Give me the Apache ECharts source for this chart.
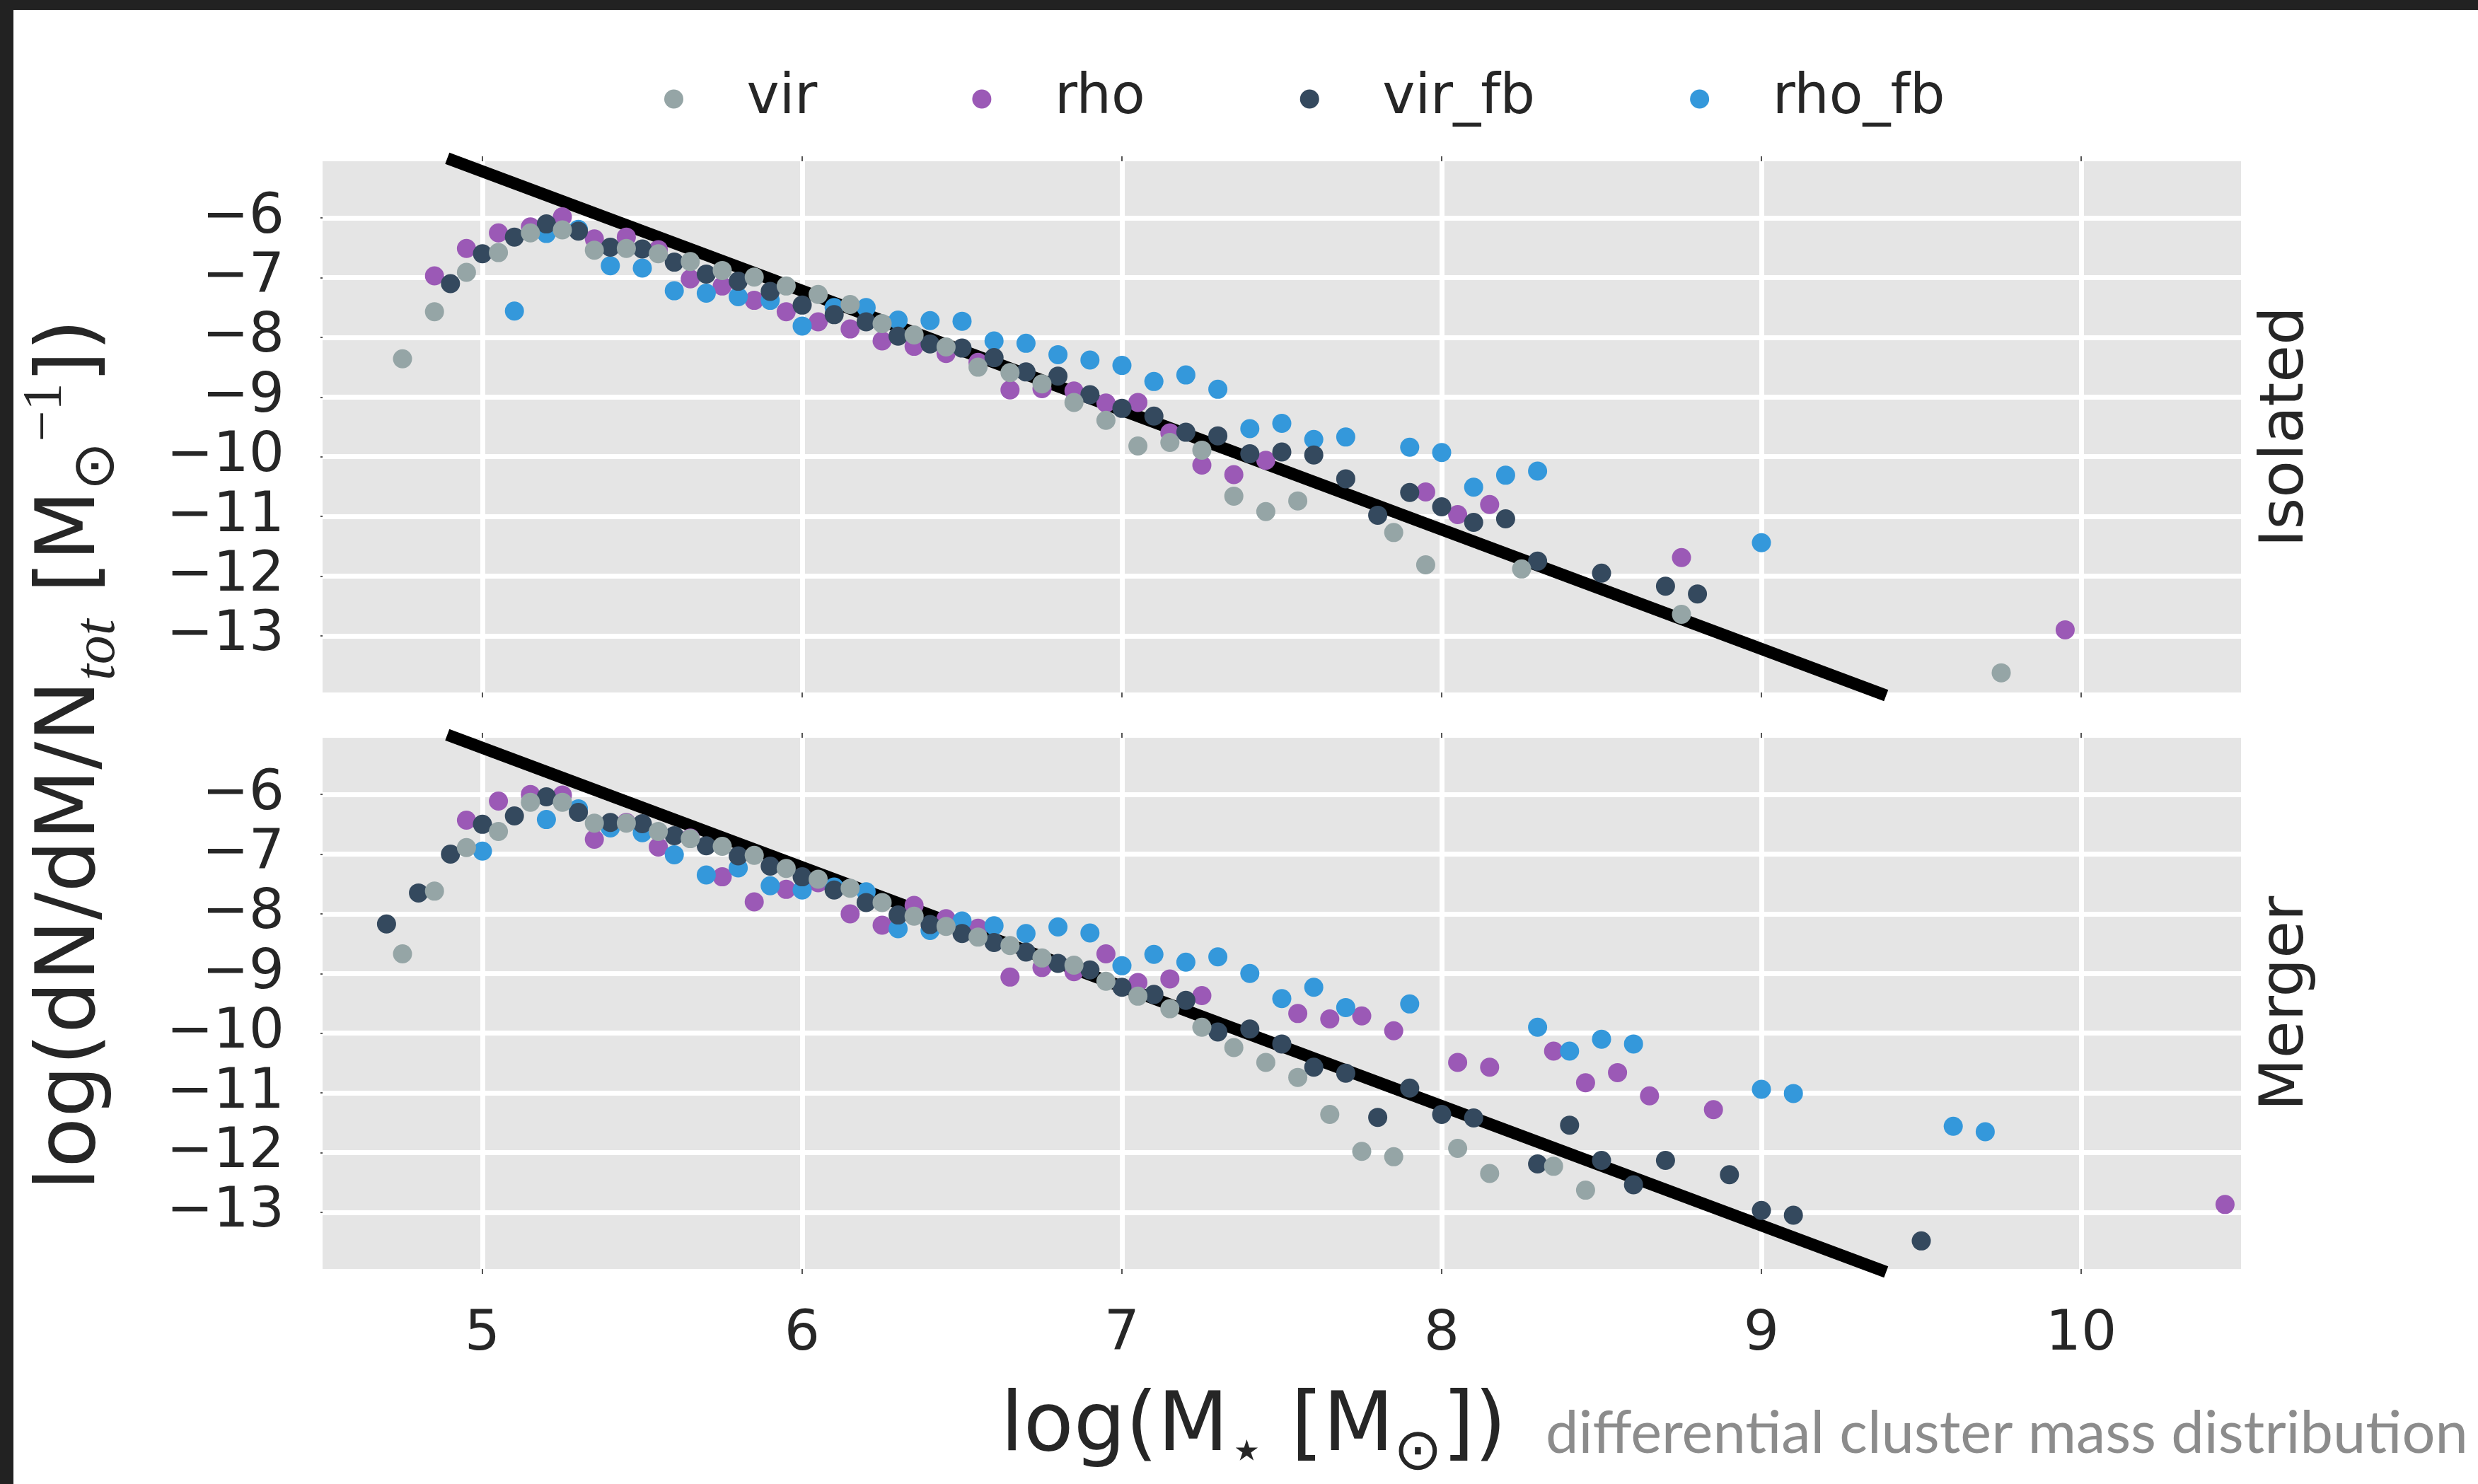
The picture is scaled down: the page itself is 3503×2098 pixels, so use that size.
<!DOCTYPE html>
<html>
<head>
<meta charset="utf-8">
<script src="https://cdn.jsdelivr.net/npm/echarts@6/dist/echarts.min.js"></script>
<style>
html,body{margin:0;padding:0;background:#ffffff;}
#c{width:3503px;height:2098px;}
</style>
</head>
<body>
<div id="c"></div>
<script>
// ---------------- DATA ----------------
const xTicks = [5, 6, 7, 8, 9, 10];
const yTicks = [-13, -12, -11, -10, -9, -8, -7, -6];
const seriesNames = ['vir', 'rho', 'vir_fb', 'rho_fb'];
const panelNames = ['Isolated', 'Merger'];

// reference power law (endpoints)
const powerLaw = [[4.89, -5.0], [9.39, -14.0]];

// Isolated panel
const isoVir = [[4.75,-8.36],[4.85,-7.57],[4.95,-6.91],[5.05,-6.58],[5.15,-6.25],[5.25,-6.20],[5.35,-6.54],[5.45,-6.51],[5.55,-6.60],[5.65,-6.73],[5.75,-6.88],[5.85,-6.99],[5.95,-7.14],[6.05,-7.28],[6.15,-7.45],[6.25,-7.77],[6.35,-7.96],[6.45,-8.16],[6.55,-8.50],[6.65,-8.59],[6.75,-8.78],[6.85,-9.09],[6.95,-9.39],[7.05,-9.82],[7.15,-9.76],[7.25,-9.89],[7.35,-10.66],[7.45,-10.92],[7.55,-10.74],[7.85,-11.27],[7.95,-11.81],[8.25,-11.88],[8.75,-12.64],[9.75,-13.62]];
const isoRho = [[4.85,-6.97],[4.95,-6.51],[5.05,-6.25],[5.15,-6.15],[5.25,-5.98],[5.35,-6.35],[5.45,-6.32],[5.55,-6.53],[5.65,-7.02],[5.75,-7.14],[5.85,-7.38],[5.95,-7.57],[6.05,-7.74],[6.15,-7.86],[6.25,-8.06],[6.35,-8.15],[6.45,-8.27],[6.55,-8.42],[6.65,-8.88],[6.75,-8.86],[6.85,-8.90],[6.95,-9.10],[7.05,-9.09],[7.15,-9.60],[7.25,-10.14],[7.35,-10.30],[7.45,-10.06],[7.95,-10.59],[8.05,-10.97],[8.15,-10.80],[8.75,-11.69],[9.95,-12.90]];
const isoVirFb = [[4.90,-7.10],[5.00,-6.60],[5.10,-6.32],[5.20,-6.10],[5.30,-6.22],[5.40,-6.49],[5.50,-6.52],[5.60,-6.74],[5.70,-6.94],[5.80,-7.06],[5.90,-7.23],[6.00,-7.46],[6.10,-7.62],[6.20,-7.74],[6.30,-7.98],[6.40,-8.11],[6.50,-8.18],[6.60,-8.34],[6.70,-8.58],[6.80,-8.65],[6.90,-8.96],[7.00,-9.19],[7.10,-9.32],[7.20,-9.59],[7.30,-9.65],[7.40,-9.95],[7.50,-9.92],[7.60,-9.97],[7.70,-10.37],[7.80,-10.98],[7.90,-10.60],[8.00,-10.84],[8.10,-11.10],[8.20,-11.04],[8.30,-11.75],[8.50,-11.95],[8.70,-12.17],[8.80,-12.30]];
const isoRhoFb = [[5.10,-7.56],[5.20,-6.26],[5.30,-6.19],[5.40,-6.80],[5.50,-6.84],[5.60,-7.22],[5.70,-7.26],[5.80,-7.32],[5.90,-7.38],[6.00,-7.81],[6.10,-7.50],[6.20,-7.50],[6.30,-7.71],[6.40,-7.72],[6.50,-7.73],[6.60,-8.06],[6.70,-8.10],[6.80,-8.29],[6.90,-8.38],[7.00,-8.47],[7.10,-8.74],[7.20,-8.63],[7.30,-8.87],[7.40,-9.53],[7.50,-9.44],[7.60,-9.71],[7.70,-9.67],[7.90,-9.84],[8.00,-9.93],[8.10,-10.51],[8.20,-10.31],[8.30,-10.24],[9.00,-11.44]];

// Merger panel
const mergVir = [[4.75,-8.67],[4.85,-7.62],[4.95,-6.89],[5.05,-6.62],[5.15,-6.13],[5.25,-6.13],[5.35,-6.48],[5.45,-6.48],[5.55,-6.62],[5.65,-6.74],[5.75,-6.87],[5.85,-7.02],[5.95,-7.24],[6.05,-7.42],[6.15,-7.57],[6.25,-7.81],[6.35,-8.04],[6.45,-8.21],[6.55,-8.39],[6.65,-8.53],[6.75,-8.74],[6.85,-8.86],[6.95,-9.13],[7.05,-9.38],[7.15,-9.59],[7.25,-9.90],[7.35,-10.24],[7.45,-10.49],[7.55,-10.74],[7.65,-11.36],[7.75,-11.98],[7.85,-12.07],[8.05,-11.93],[8.15,-12.35],[8.35,-12.23],[8.45,-12.63]];
const mergRho = [[4.95,-6.43],[5.05,-6.11],[5.15,-6.00],[5.25,-6.01],[5.35,-6.75],[5.45,-6.47],[5.55,-6.88],[5.65,-6.73],[5.75,-7.38],[5.85,-7.80],[5.95,-7.59],[6.05,-7.48],[6.15,-8.00],[6.25,-8.19],[6.35,-7.86],[6.45,-8.08],[6.55,-8.24],[6.65,-9.06],[6.75,-8.90],[6.85,-8.97],[6.95,-8.67],[7.05,-9.15],[7.15,-9.09],[7.25,-9.37],[7.55,-9.67],[7.65,-9.76],[7.75,-9.71],[7.85,-9.96],[8.05,-10.49],[8.15,-10.57],[8.35,-10.30],[8.45,-10.83],[8.55,-10.66],[8.65,-11.05],[8.85,-11.28],[10.45,-12.87]];
const mergVirFb = [[4.70,-8.17],[4.80,-7.65],[4.90,-7.00],[5.00,-6.50],[5.10,-6.36],[5.20,-6.04],[5.30,-6.30],[5.40,-6.47],[5.50,-6.49],[5.60,-6.69],[5.70,-6.86],[5.80,-7.03],[5.90,-7.20],[6.00,-7.38],[6.10,-7.60],[6.20,-7.81],[6.30,-8.02],[6.40,-8.18],[6.50,-8.33],[6.60,-8.48],[6.70,-8.64],[6.80,-8.83],[6.90,-8.94],[7.00,-9.23],[7.10,-9.35],[7.20,-9.45],[7.30,-9.98],[7.40,-9.93],[7.50,-10.18],[7.60,-10.57],[7.70,-10.67],[7.80,-11.41],[7.90,-10.92],[8.00,-11.36],[8.10,-11.42],[8.30,-12.19],[8.40,-11.54],[8.50,-12.13],[8.60,-12.54],[8.70,-12.13],[8.90,-12.37],[9.00,-12.97],[9.10,-13.05],[9.50,-13.48]];
const mergRhoFb = [[5.00,-6.95],[5.20,-6.42],[5.30,-6.24],[5.40,-6.56],[5.50,-6.64],[5.60,-7.01],[5.70,-7.35],[5.80,-7.23],[5.90,-7.53],[6.00,-7.60],[6.10,-7.55],[6.20,-7.63],[6.30,-8.25],[6.40,-8.28],[6.50,-8.12],[6.60,-8.20],[6.70,-8.33],[6.80,-8.22],[6.90,-8.32],[7.00,-8.87],[7.10,-8.68],[7.20,-8.81],[7.30,-8.72],[7.40,-9.00],[7.50,-9.42],[7.60,-9.23],[7.70,-9.57],[7.90,-9.51],[8.30,-9.90],[8.40,-10.30],[8.50,-10.10],[8.60,-10.18],[9.00,-10.94],[9.10,-11.01],[9.60,-11.56],[9.70,-11.65]];

// ---------------- STYLE ----------------
const COLORS = { vir: '#95a5a6', rho: '#9b59b6', vir_fb: '#34495e', rho_fb: '#3498db' };
const TXT = '#262626';
const panels = [
  { vir: isoVir, rho: isoRho, vir_fb: isoVirFb, rho_fb: isoRhoFb },
  { vir: mergVir, rho: mergRho, vir_fb: mergVirFb, rho_fb: mergRhoFb }
];
const drawOrder = ['rho', 'rho_fb', 'vir_fb', 'vir'];
const grids = [
  { left: 456, top: 228, width: 2712, height: 751 },
  { left: 456, top: 1043, width: 2712, height: 751 }
];

const tickStyle = { color: '#555555', width: 2 };
const fmtY = v => (v < 0 ? '\u2212' : '') + Math.abs(v);

const xAxes = [];
const yAxes = [];
grids.forEach((g, i) => {
  xAxes.push({
    gridIndex: i, type: 'value', min: 4.5, max: 10.5, position: 'bottom',
    axisLine: { show: false },
    axisTick: { show: true, customValues: xTicks, length: 7, lineStyle: tickStyle },
    axisLabel: { show: i === 1, customValues: xTicks, fontSize: 79, fontFamily: 'DejaVu Sans',
                 color: TXT, margin: 54, lineHeight: 79 },
    splitLine: { show: true, lineStyle: { color: '#ffffff', width: 7 } }
  });
  yAxes.push({
    gridIndex: i, type: 'value', min: -13.95, max: -5.05,
    axisLine: { show: false },
    axisTick: { show: true, customValues: yTicks, length: 3, lineStyle: tickStyle },
    axisLabel: { show: true, customValues: yTicks, formatter: fmtY, fontSize: 79,
                 fontFamily: 'DejaVu Sans', color: TXT, margin: 54 },
    splitLine: { show: true, lineStyle: { color: '#ffffff', width: 7 } }
  });
});
grids.forEach((g, i) => {
  xAxes.push({
    gridIndex: i, type: 'value', min: 4.5, max: 10.5, position: 'top',
    axisLine: { show: false },
    axisTick: { show: true, customValues: xTicks, length: 7, lineStyle: tickStyle },
    axisLabel: { show: false },
    splitLine: { show: false }
  });
});

const series = [];
panels.forEach((p, i) => {
  series.push({
    type: 'line', name: 'power law', xAxisIndex: i, yAxisIndex: i, data: powerLaw,
    symbol: 'none', clip: false, z: 2, silent: true,
    lineStyle: { color: '#000000', width: 17 }
  });
  drawOrder.forEach(name => {
    series.push({
      type: 'scatter', name: name, xAxisIndex: i, yAxisIndex: i, data: p[name],
      symbol: 'circle', symbolSize: 27, z: 3, silent: true,
      itemStyle: { color: COLORS[name], opacity: 1, borderWidth: 0 }
    });
  });
});

const mainTok = { fontSize: 116, fontFamily: 'DejaVu Sans', fill: TXT, lineHeight: 154, verticalAlign: 'middle' };
const richY = {
  m: mainTok,
  s: { fontSize: 82, fontFamily: 'Liberation Serif', fontStyle: 'italic', fill: TXT, lineHeight: 88, verticalAlign: 'bottom' },
  o: { fontSize: 82, fontFamily: 'DejaVu Sans', fill: TXT, lineHeight: 86, verticalAlign: 'bottom' },
  p: { fontSize: 78, fontFamily: 'Liberation Serif', fill: TXT, lineHeight: 88, verticalAlign: 'top' }
};
const richX = {
  m: mainTok,
  k: { fontSize: 82, fontFamily: 'DejaVu Sans', fill: TXT, lineHeight: 76, verticalAlign: 'bottom' },
  o: { fontSize: 82, fontFamily: 'DejaVu Sans', fill: TXT, lineHeight: 86, verticalAlign: 'bottom' }
};

const option = {
  animation: false,
  backgroundColor: '#ffffff',
  textStyle: { fontFamily: 'DejaVu Sans' },
  grid: grids.map(g => Object.assign({ show: true, backgroundColor: '#e5e5e5', borderWidth: 0, containLabel: false }, g)),
  legend: {
    data: seriesNames.map(n => ({ name: n, icon: 'circle' })),
    left: 939, top: 101, padding: 0,
    itemWidth: 196, itemHeight: 27, itemGap: 219, symbolKeepAspect: true,
    selectedMode: false,
    textStyle: { fontSize: 78, fontFamily: 'DejaVu Sans', color: TXT, lineHeight: 78 }
  },
  xAxis: xAxes,
  yAxis: yAxes,
  series: series,
  graphic: [
    { type: 'rect', silent: true, shape: { x: 0, y: 0, width: 3503, height: 14 }, style: { fill: '#222222' } },
    { type: 'rect', silent: true, shape: { x: 0, y: 0, width: 19, height: 2098 }, style: { fill: '#222222' } },
    { type: 'text', silent: true, x: 3233, y: 603.5, rotation: Math.PI / 2,
      style: { text: panelNames[0], fontSize: 86, fontFamily: 'DejaVu Sans', fill: TXT, align: 'center', verticalAlign: 'middle' } },
    { type: 'text', silent: true, x: 3233, y: 1418.5, rotation: Math.PI / 2,
      style: { text: panelNames[1], fontSize: 86, fontFamily: 'DejaVu Sans', fill: TXT, align: 'center', verticalAlign: 'middle' } },
    { type: 'text', silent: true, x: 103, y: 1067, rotation: Math.PI / 2,
      style: { text: '{m|log(dN/dM/N}{s|tot}{m| [M}{o|\u2299}{p|\u22121}{m|])}', rich: richY,
               align: 'center', verticalAlign: 'middle', fill: TXT } },
    { type: 'text', silent: true, x: 1772, y: 2020,
      style: { text: '{m|log(M}{k|\u22C6}{m| [M}{o|\u2299}{m|])}', rich: richX,
               align: 'center', verticalAlign: 'middle', fill: TXT } },
    { type: 'text', silent: true, x: 2185, y: 2027,
      style: { text: 'differential cluster mass distribution', fontSize: 83, fontFamily: 'Lato',
               fill: '#8c8c8c', align: 'left', verticalAlign: 'middle' } }
  ]
};

const chart = echarts.init(document.getElementById('c'), null, { renderer: 'canvas', width: 3503, height: 2098 });
chart.setOption(option);
</script>
</body>
</html>
